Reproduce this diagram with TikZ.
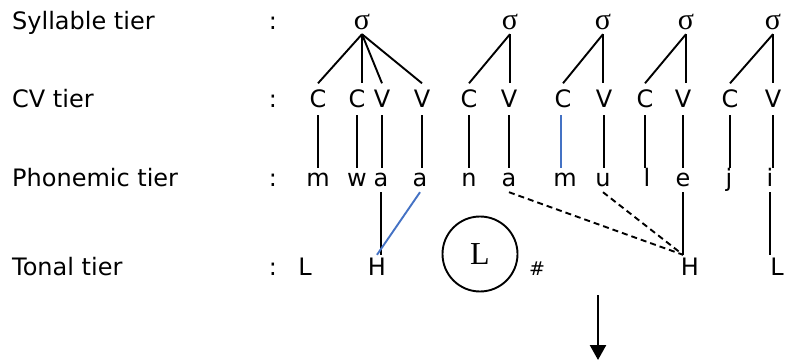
\documentclass[tikz,border=0pt]{standalone}
\usepackage{fontspec}
\setmainfont{DejaVu Sans}
\newfontfamily\serifgreek{Liberation Serif}
\usetikzlibrary{arrows.meta}

\definecolor{linkblue}{RGB}{68,114,196}

\begin{document}
\begin{tikzpicture}[x=1pt,y=-1pt,
  bigtext/.style={font=\fontsize{24}{28}\selectfont},
  tierlabel/.style={bigtext, anchor=base west, inner sep=0pt},
  colonmark/.style={bigtext, anchor=base, inner sep=0pt},
  sylnode/.style={anchor=base, font=\serifgreek\fontsize{30}{32}\selectfont,
    inner xsep=0pt, inner ysep=4pt, text height=13pt, text depth=0pt},
  cvnode/.style={bigtext, anchor=base, inner xsep=0pt, inner ysep=7pt,
    text height=17.5pt, text depth=0pt},
  phnode/.style={bigtext, anchor=base, inner xsep=0pt, inner ysep=5pt,
    text height=14pt, text depth=0pt},
  tonenode/.style={bigtext, anchor=base, inner xsep=0pt, inner ysep=2.5pt,
    text height=17.5pt, text depth=0pt},
  assoc/.style={line width=1.9pt},
  newlink/.style={line width=1.9pt, draw=linkblue},
  spread/.style={line width=1.9pt, dash pattern=on 6pt off 4pt},
]
\useasboundingbox (0,0) rectangle (786,363);

% tier names
\node[tierlabel] (lsyl) at (12,30) {Syllable tier};
\node[tierlabel] (lcv)  at (12,108) {CV tier};
\node[tierlabel] (lph)  at (12,187) {Phonemic tier};
\node[tierlabel] (lton) at (12,275) {Tonal tier};
\node[colonmark] (k1) at (273,30) {:};
\node[colonmark] (k2) at (273,108) {:};
\node[colonmark] (k3) at (273,187) {:};
\node[colonmark] (k4) at (273,275) {:};

% syllables
\node[sylnode] (s1) at (362,30) {σ};
\node[sylnode] (s2) at (510,30) {σ};
\node[sylnode] (s3) at (603,30) {σ};
\node[sylnode] (s4) at (686,30) {σ};
\node[sylnode] (s5) at (773,30) {σ};

% CV skeleton
\node[cvnode] (c1)  at (318,108) {C};
\node[cvnode] (c2)  at (357,108) {C};
\node[cvnode] (c3)  at (382,108) {V};
\node[cvnode] (c4)  at (422,108) {V};
\node[cvnode] (c5)  at (469,108) {C};
\node[cvnode] (c6)  at (509,108) {V};
\node[cvnode] (c7)  at (563,108) {C};
\node[cvnode] (c8)  at (604,108) {V};
\node[cvnode] (c9)  at (645,108) {C};
\node[cvnode] (c10) at (683,108) {V};
\node[cvnode] (c11) at (730,108) {C};
\node[cvnode] (c12) at (773,108) {V};

% segments
\node[phnode] (p1)  at (318,187) {m};
\node[phnode] (p2)  at (357,187) {w};
\node[phnode] (p3)  at (381,187) {a};
\node[phnode] (p4)  at (420,187) {a};
\node[phnode] (p5)  at (469,187) {n};
\node[phnode] (p6)  at (509,187) {a};
\node[phnode] (p7)  at (565,187) {m};
\node[phnode] (p8)  at (603,187) {u};
\node[phnode] (p9)  at (647,187) {l};
\node[phnode] (p10) at (683,187) {e};
\node[phnode] (p11) at (729,187) {j};
\node[phnode] (p12) at (770,187) {i};

% tones
\node[tonenode] (t1) at (305,275) {L};
\node[tonenode] (t2) at (377,275) {H};
\node[anchor=base, inner sep=0pt, font=\fontsize{19}{21}\selectfont] (t3) at (537,275) {\#};
\node[tonenode] (t4) at (690,275) {H};
\node[tonenode] (t5) at (777,275) {L};
\node[draw, circle, line width=1.9pt, minimum size=75pt, inner sep=0pt,
  font=\serifgreek\fontsize{32}{34}\selectfont] (lc) at (480,254) {L};

% syllable to CV links
\draw[assoc] (s1.south) -- (c1.north);
\draw[assoc] (s1.south) -- (s1.south |- c2.north);
\draw[assoc] (s1.south) -- (c3.north);
\draw[assoc] (s1.south) -- (c4.north);
\draw[assoc] (s2.south) -- (c5.north);
\draw[assoc] (s2.south) -- (s2.south |- c6.north);
\draw[assoc] (s3.south) -- (c7.north);
\draw[assoc] (s3.south) -- (s3.south |- c8.north);
\draw[assoc] (s4.south) -- (c9.north);
\draw[assoc] (s4.south) -- (s4.south |- c10.north);
\draw[assoc] (s5.south) -- (c11.north);
\draw[assoc] (s5.south) -- (s5.south |- c12.north);

% CV to segment links
\foreach \i in {1,2,3,4,5,6,8,9,10,11,12}
  \draw[assoc] (c\i.south) -- (c\i.south |- p\i.north);
\draw[newlink] ([xshift=-2pt]c7.south) -- ([xshift=-2pt]c7.south |- p7.north);

% segment to tone links
\coordinate (hj) at (p10.south |- t4.north);
\draw[assoc] (p3.south) -- (p3.south |- t2.north);
\draw[newlink] (p4.south) -- (t2.north);
\draw[assoc] (p10.south) -- (hj);
\draw[assoc] (p12.south) -- (p12.south |- t5.north);
\draw[spread] (p6.south) -- (hj);
\draw[spread] (p8.south) -- (hj);

% derivation arrow
\coordinate (arrtop) at (598,295);
\coordinate (arrbot) at (598,360);
\draw[line width=2.4pt, -{Triangle[width=16pt,length=15pt]}] (arrtop) -- (arrbot);
\end{tikzpicture}
\end{document}
